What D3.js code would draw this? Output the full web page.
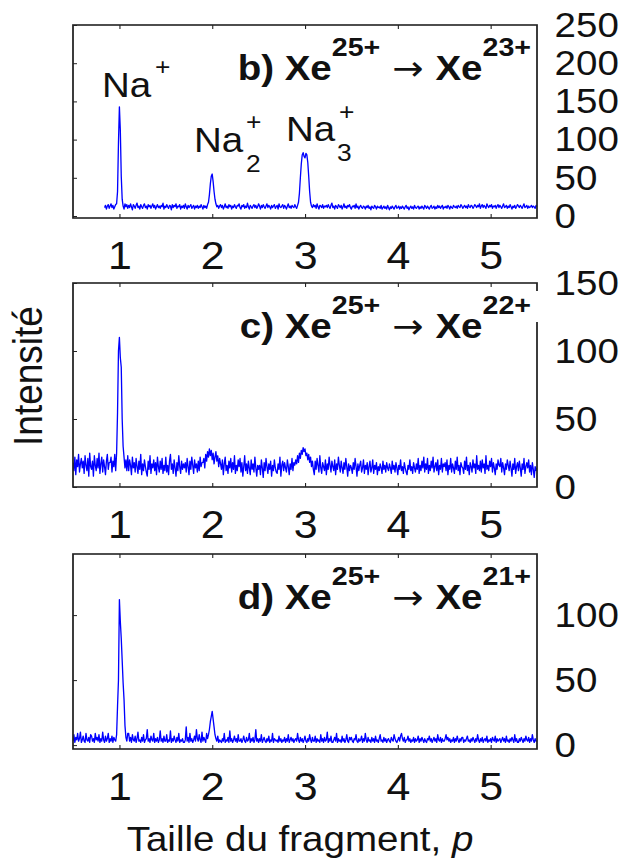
<!DOCTYPE html>
<html><head><meta charset="utf-8">
<script src="https://cdn.jsdelivr.net/npm/d3@7"></script>
<style>html,body{margin:0;padding:0;background:#fff;} svg{display:block;}</style>
</head><body><svg id="chart"></svg>
<script>
// ---------- data ----------
const pTicks = [1, 2, 3, 4, 5];
const pStep = 0.01;
const bStart = 0.84, cStart = 0.5, dStart = 0.5;

const seriesB = [
 11,14,9,13,15,10,13,16,11,14,9,12,15,16,32,96,143,112,52,22,
 13,9,16,12,15,10,14,11,16,12,8,15,13,10,14,17,11,13,9,15,
 12,10,14,16,11,13,9,15,12,14,10,13,16,11,14,9,12,15,11,13,
 10,14,12,17,9,13,11,15,12,10,14,13,8,15,11,14,12,16,10,13,
 12,15,9,13,11,14,10,16,12,9,14,11,13,15,10,12,14,9,13,11,
 14,10,13,11,15,12,9,14,11,13,10,15,18,28,42,52,55,45,32,22,
 16,12,14,10,13,15,11,14,9,12,16,11,13,10,15,12,14,9,13,11,
 15,12,10,14,13,16,11,9,14,12,15,10,13,11,17,12,9,14,12,10,
 13,15,11,14,10,12,16,13,9,14,11,15,12,10,13,16,11,14,12,9,
 14,11,13,15,10,12,14,9,16,12,11,13,15,10,14,12,9,13,16,11,
 13,10,14,12,11,15,12,10,14,18,30,50,68,80,83,78,76,82,80,70,
 52,32,18,13,11,15,12,14,10,16,12,9,14,13,11,15,10,13,12,14,
 11,15,12,10,14,17,11,13,9,14,12,10,15,13,11,14,9,12,16,11,
 13,10,14,12,15,11,9,13,12,14,10,16,11,13,9,12,14,11,10,13,
 12,9,13,11,14,10,12,8,13,11,10,14,12,9,13,11,12,10,14,9,
 11,13,10,12,9,14,11,8,12,10,13,11,9,12,14,10,11,13,9,12,
 10,13,11,9,12,14,10,12,8,11,13,10,12,9,14,11,10,12,13,9,
 12,10,13,11,9,14,12,10,13,11,9,12,14,10,11,13,9,12,10,14,
 11,13,10,12,14,9,12,11,13,10,14,12,9,13,11,10,14,12,11,13,
 10,14,12,11,15,13,10,12,14,11,13,10,15,12,11,14,13,10,12,15,
 13,11,14,12,16,10,13,15,11,14,12,10,16,13,11,14,12,15,10,13,
 12,14,10,13,15,11,14,12,10,13,16,11,12,14,10,13,11,15,12,9,
 13,11,14,10,12,15,13,11,14,12,10,13,16,11,12,14,10,13,11,12,
 14,11,13,12,10,14,12
];

const seriesC = [
 18,12,22,9,20,15,24,11,17,21,14,19,10,23,16,12,21,8,25,15,
 13,19,8,23,16,12,21,14,25,10,17,22,11,20,15,9,19,24,13,18,
 18,22,11,19,15,24,12,25,55,100,110,95,88,50,30,22,14,20,12,23,
 12,20,16,9,22,14,18,11,21,15,10,19,13,24,9,17,12,20,15,11,
 8,19,13,23,10,17,14,20,12,18,9,22,15,11,19,13,21,10,16,12,
 22,11,16,9,19,24,13,17,10,20,14,8,18,12,23,15,10,19,13,17,
 14,18,11,21,15,9,19,13,22,16,10,20,14,17,11,19,12,22,15,18,
 18,21,14,24,19,26,22,28,23,27,20,25,17,22,26,19,23,15,21,17,
 13,20,9,17,22,12,16,10,19,14,21,11,18,13,23,10,16,12,20,15,
 21,11,18,8,15,23,12,17,10,19,14,9,20,13,17,11,22,14,8,16,
 13,16,9,20,14,7,18,12,21,15,10,17,13,19,8,16,12,20,14,11,
 10,17,13,22,8,16,19,12,18,14,11,20,15,9,17,13,21,12,18,16,
 20,17,23,18,25,21,27,24,29,26,28,23,25,20,24,18,22,15,19,13,
 9,19,13,21,16,11,23,14,10,18,15,12,20,9,17,13,22,16,11,19,
 15,12,20,9,17,13,22,16,11,19,14,10,18,13,21,15,8,17,12,16,
 14,10,18,13,21,15,8,17,12,16,19,11,14,20,10,16,13,18,9,15,
 19,11,14,20,10,16,13,18,9,15,12,17,14,10,19,13,16,11,18,14,
 12,17,14,10,19,13,16,11,18,14,9,16,13,20,12,15,10,18,14,11,
 9,16,13,20,12,15,10,18,14,11,17,13,21,10,16,12,19,14,22,11,
 17,13,21,10,16,12,19,14,22,11,15,18,12,20,9,16,13,21,11,17,
 15,18,12,20,9,16,13,21,11,17,14,10,19,13,22,12,16,9,18,15,
 14,10,19,13,22,12,16,9,18,15,11,20,14,17,10,23,13,16,12,19,
 11,20,14,17,10,23,13,16,12,19,15,21,11,18,14,9,17,13,20,16,
 15,21,11,18,14,9,17,13,20,16,12,19,14,8,17,13,21,10,15,18,
 12,19,14,8,17,13,21,10,15,18,14,20,11,16,9,18,13,7,15,12,
 14
];

const seriesD = [
 3,8,2,6,4,9,3,5,10,2,4,7,3,2,9,4,3,6,2,8,
 7,3,5,2,9,4,6,3,8,2,5,3,10,4,2,7,3,5,9,2,
 5,3,7,2,6,4,3,8,30,50,112,95,82,65,48,35,15,6,3,9,
 9,3,6,2,8,4,3,7,2,5,10,3,4,2,6,3,8,2,4,5,
 12,3,5,2,7,4,3,9,2,5,3,6,2,4,11,3,5,2,7,3,
 3,8,2,4,3,11,2,5,3,7,4,2,6,3,9,2,4,3,5,2,
 2,4,14,3,6,2,9,3,5,2,4,7,3,12,5,3,8,4,2,10,
 3,6,4,2,9,5,8,12,18,22,26,20,14,8,5,3,7,2,4,3,
 2,5,3,9,2,4,3,6,2,11,3,5,2,4,7,3,5,2,8,3,
 3,5,2,4,7,3,2,6,3,4,9,2,5,3,6,2,4,12,3,5,
 2,5,3,8,2,4,6,3,2,5,3,7,2,4,3,9,2,5,4,3,
 4,2,7,3,5,2,4,3,6,2,5,3,8,2,4,6,3,5,2,4,
 5,3,9,4,2,6,3,5,2,4,7,3,2,5,3,8,4,2,6,3,
 3,7,2,5,3,4,2,8,3,5,2,6,3,4,10,2,5,3,7,2,
 2,4,6,3,9,2,5,3,4,2,7,3,5,2,4,8,3,2,6,4,
 6,3,2,5,4,8,3,2,5,3,4,7,2,5,3,9,4,2,6,3,
 4,2,6,3,5,2,7,3,4,2,5,8,3,4,2,6,3,5,2,4,
 5,3,2,6,4,3,8,5,3,2,4,6,3,7,9,5,3,6,2,4,
 4,7,3,5,2,4,3,6,2,5,3,4,7,2,5,3,6,4,2,5,
 3,2,5,4,7,3,5,2,4,6,3,5,2,8,4,3,6,2,5,3,
 3,5,8,4,6,3,5,2,4,3,6,2,5,3,7,4,2,5,3,6,
 6,2,4,3,5,7,3,4,2,5,3,6,4,2,5,3,8,4,2,5,
 3,6,2,4,5,3,7,2,4,3,5,2,6,4,3,7,2,5,3,4,
 5,2,4,6,3,5,2,7,3,4,2,5,3,6,4,2,8,3,5,2,
 2,5,3,6,4,2,5,3,7,4,3,6,2,5,3,8,4,2,5,3,
 3
];

const yTicksB = [0, 50, 100, 150, 200, 250];
const yTicksC = [0, 50, 100, 150];
const yTicksD = [0, 50, 100];

const titleLetters = ["b)", "c)", "d)"];
const chargeFrom = "25+";
const chargeTo = ["23+", "22+", "21+"];
const yLabel = "Intensit\u00e9";
const xLabel = "Taille du fragment, ";
const xLabelVar = "p";

// ---------- layout ----------
const W = 624, H = 863, SX = 1.1;
const FONT = "'Liberation Sans', Arial, Helvetica, sans-serif";
const svg = d3.select("#chart")
  .attr("width", W).attr("height", H)
  .attr("viewBox", `0 0 ${W / SX} ${H}`)
  .attr("preserveAspectRatio", "none")
  .style("font-family", FONT);

const XL = 73 / SX, XR = 537 / SX;
const x = d3.scaleLinear().domain([0.5, 5.5]).range([XL, XR]);

const panels = [
  {top: 25, bottom: 218, domain: [0, 250], range: [216, 25], data: seriesB, start: bStart, ticks: yTicksB},
  {top: 283, bottom: 487, domain: [0, 150], range: [487, 283], data: seriesC, start: cStart, ticks: yTicksC},
  {top: 554, bottom: 749, domain: [-3, 147], range: [749, 554], data: seriesD, start: dStart, ticks: yTicksD}
];

panels.forEach((P, i) => {
  const y = d3.scaleLinear().domain(P.domain).range(P.range);
  const g = svg.append("g");
  const clipId = "clip" + i;
  svg.append("clipPath").attr("id", clipId).append("rect")
    .attr("x", XL).attr("y", P.top).attr("width", XR - XL).attr("height", P.bottom - P.top);

  const pts = P.data.map((v, j) => [P.start + j * pStep, v]);
  g.append("path").datum(pts)
    .attr("clip-path", `url(#${clipId})`)
    .attr("fill", "none").attr("stroke", "#0000ff").attr("stroke-width", 1.2)
    .attr("stroke-linejoin", "round")
    .attr("d", d3.line().x(d => x(d[0])).y(d => y(d[1])));

  // inner ticks
  const tickStyle = sel => { sel.select(".domain").remove(); sel.selectAll("line").attr("stroke", "#222").attr("stroke-width", 1); };
  g.append("g").attr("transform", `translate(0,${P.bottom})`)
    .call(d3.axisBottom(x).tickValues(pTicks).tickSize(-4).tickFormat("")).call(tickStyle);
  g.append("g").attr("transform", `translate(0,${P.top})`)
    .call(d3.axisTop(x).tickValues(pTicks).tickSize(-4).tickFormat("")).call(tickStyle);
  g.append("g").attr("transform", `translate(${XL},0)`)
    .call(d3.axisLeft(y).tickValues(P.ticks).tickSize(-4 / SX).tickFormat("")).call(tickStyle);

  // box
  g.append("rect").attr("x", XL).attr("y", P.top).attr("width", XR - XL).attr("height", P.bottom - P.top)
    .attr("fill", "none").attr("stroke", "#222").attr("stroke-width", 1.6);

  // x labels
  const xa = g.append("g").attr("transform", `translate(0,${P.bottom})`)
    .call(d3.axisBottom(x).tickValues(pTicks).tickSize(0).tickPadding(23).tickFormat(d3.format("d")));
  xa.select(".domain").remove();
  xa.selectAll("text").attr("font-size", 39).attr("font-family", FONT).attr("fill", "#111");

  // y labels on the right
  const ya = g.append("g").attr("transform", `translate(${XR},0)`)
    .call(d3.axisRight(y).tickValues(P.ticks).tickSize(0).tickPadding(16).tickFormat(d3.format("d")));
  ya.select(".domain").remove();
  ya.selectAll("text").attr("font-size", 35).attr("font-family", FONT).attr("fill", "#111");

  // panel c: white background behind the superscript covers the frame
  if (i === 1) {
    g.append("rect").attr("x", 505 / SX).attr("y", 291).attr("width", 36 / SX).attr("height", 31).attr("fill", "#fff");
  }

  // title
  const t = g.append("text").attr("x", 531 / SX).attr("y", P.top + 55)
    .attr("text-anchor", "end").attr("fill", "#111");
  t.append("tspan").attr("font-weight", "bold").attr("font-size", 35).text(titleLetters[i] + "\u00a0Xe");
  t.append("tspan").attr("font-weight", "bold").attr("font-size", 26).attr("dy", -24).text(chargeFrom);
  t.append("tspan").attr("font-size", 34).attr("dy", 24).attr("font-family", "'DejaVu Sans', sans-serif")
    .text("\u00a0\u2192\u00a0");
  t.append("tspan").attr("font-weight", "bold").attr("font-size", 35).text("Xe");
  t.append("tspan").attr("font-weight", "bold").attr("font-size", 26).attr("dy", -24).text(chargeTo[i]);
});

// peak labels in panel b
function lab(xp, yp, txt, size) {
  svg.append("text").attr("x", xp / SX).attr("y", yp).attr("font-size", size).attr("fill", "#111").text(txt);
}
lab(102, 97, "Na", 35);  lab(155, 75, "+", 24);
lab(194, 152, "Na", 35); lab(246, 130, "+", 24); lab(246, 172, "2", 24);
lab(286, 141, "Na", 35); lab(339, 120, "+", 24); lab(337, 161, "3", 24);

// axis titles
svg.append("text").attr("transform", `translate(${42 / SX},376) rotate(-90)`)
  .attr("text-anchor", "middle").attr("font-size", 37).attr("fill", "#111").text(yLabel);
const xt = svg.append("text").attr("x", 300 / SX).attr("y", 851)
  .attr("text-anchor", "middle").attr("font-size", 35).attr("fill", "#111");
xt.append("tspan").text(xLabel);
xt.append("tspan").attr("font-style", "italic").text(xLabelVar);
</script>
</body></html>
